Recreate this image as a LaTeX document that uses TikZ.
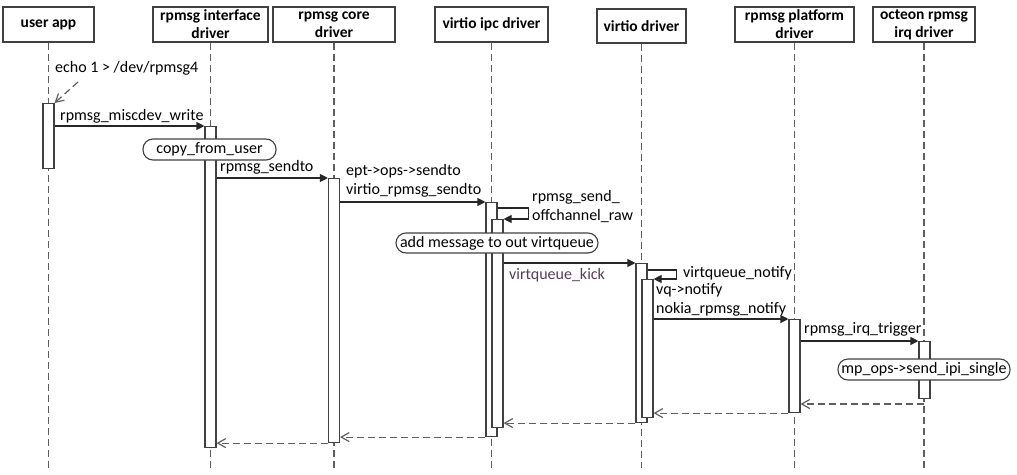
\documentclass[tikz,border=0pt]{standalone}
\usepackage{fontspec}
\setmainfont{Carlito}
\usetikzlibrary{arrows.meta,calc}
\definecolor{linec}{RGB}{64,64,64}
\definecolor{lifec}{RGB}{95,95,95}
\definecolor{kickc}{RGB}{85,60,90}
\tikzset{
  head/.style={draw=linec,line width=1.2pt,fill=white,inner sep=0pt,align=center,font=\bfseries\fontsize{15.5}{18}\selectfont},
  life/.style={draw=lifec,line width=1.3pt,dash pattern=on 7pt off 4pt},
  act/.style={draw=linec,line width=1.1pt,fill=white,inner sep=0pt,minimum width=11pt,anchor=north},
  msg/.style={draw=black!85,line width=1.1pt,-{Triangle[length=8pt,width=8pt]}},
  ret/.style={draw=lifec,line width=1.2pt,dash pattern=on 7pt off 4pt,-{Straight Barb[length=8pt,width=9pt]}},
  lbl/.style={inner sep=0pt,anchor=base west,font=\fontsize{16}{18}\selectfont},
  pill/.style={draw=linec,line width=1.1pt,fill=white,rounded corners=10pt,inner sep=0pt,font=\fontsize{16}{18}\selectfont}
}
\begin{document}
\begin{tikzpicture}[x=1pt,y=-1pt]
\useasboundingbox (0,0) rectangle (1017,474);
% headers
\node[head,minimum width=91pt,minimum height=35pt] (h1) at (48.5,24.5) {user app};
\node[head,minimum width=115pt,minimum height=35pt] (h2) at (210.5,24.5) {rpmsg interface\\driver};
\node[head,minimum width=122pt,minimum height=35pt] (h3) at (334,24.5) {rpmsg core\\driver};
\node[head,minimum width=113pt,minimum height=35pt] (h4) at (491.5,24.5) {virtio ipc driver};
\node[head,minimum width=89pt,minimum height=34pt] (h5) at (641.5,26) {virtio driver};
\node[head,minimum width=119pt,minimum height=35pt] (h6) at (794.5,24.5) {rpmsg platform\\driver};
\node[head,minimum width=102pt,minimum height=35pt] (h7) at (924,24.5) {octeon rpmsg\\irq driver};
% lifeline ends
\coordinate (e1) at (48.5,468);
\coordinate (e2) at (210.5,468);
\coordinate (e3) at (334,468);
\coordinate (e4) at (491.5,468);
\coordinate (e5) at (641.5,468);
\coordinate (e6) at (794.5,468);
\coordinate (e7) at (924,468);
\foreach \i in {1,...,7} {\draw[life] (h\i.south) -- (e\i);}
% activations
\node[act,minimum height=65pt] (ua) at (48.5,103) {};
\node[act,minimum height=321pt] (ia) at (210.5,126) {};
\node[act,minimum height=264pt] (ca) at (334,178) {};
\node[act,minimum height=234pt] (pa1) at (491.5,202) {};
\node[act,minimum height=208pt] (pa2) at (497.5,219) {};
\node[act,minimum height=159pt] (va1) at (641.5,263) {};
\node[act,minimum height=138pt] (va2) at (647.5,279) {};
\node[act,minimum height=93pt] (pla) at (794.5,319) {};
\node[act,minimum height=57pt] (oa) at (924.5,341) {};
% echo
\coordinate (echo) at (78,82);
\draw[ret] (echo) -- (ua.north east);
\node[lbl] (l0) at (55,72.5) {echo 1 > /dev/rpmsg4};
% calls
\draw[msg] (ua.east |- ia.north west) -- (ia.north west);
\node[lbl] (l1) at (60,120.5) {rpmsg\_miscdev\_write};
\draw[msg] (ia.east |- ca.north west) -- (ca.north west);
\node[lbl] (l2) at (220,171.5) {rpmsg\_sendto};
\draw[msg] (ca.east |- pa1.north west) -- (pa1.north west);
\node[lbl] (l3) at (346,175) {ept->ops->sendto};
\node[lbl] (l4) at (346,194) {virtio\_rpmsg\_sendto};
\draw[msg] ([yshift=-6pt]pa1.north east) -- ++(31,0) |- (pa2.north east);
\node[lbl] (l5) at (532,201.5) {rpmsg\_send\_};
\node[lbl] (l6) at (532,220.5) {offchannel\_raw};
\draw[msg] (pa2.east |- va1.north west) -- (va1.north west);
\node[lbl,text=kickc] (l7) at (509,279.5) {virtqueue\_kick};
\draw[msg] ([yshift=-7pt]va1.north east) -- ++(29,0) |- (va2.north east);
\node[lbl] (l8) at (683,277.5) {virtqueue\_notify};
\node[lbl] (l9) at (656,294) {vq->notify};
\node[lbl] (l10) at (656,313.5) {nokia\_rpmsg\_notify};
\draw[msg] (va2.east |- pla.north west) -- (pla.north west);
\draw[msg] (pla.east |- oa.north west) -- (oa.north west);
\node[lbl] (l11) at (804,333.5) {rpmsg\_irq\_trigger};
% pills
\node[pill,minimum width=133pt,minimum height=21pt] (p1) at (209.5,149.5) {copy\_from\_user};
\node[pill,minimum width=202pt,minimum height=20pt] (p2) at (497,243) {add message to out virtqueue};
\node[pill,minimum width=172pt,minimum height=21pt] (p3) at (924,369.5) {mp\_ops->send\_ipi\_single};
% returns
\coordinate (r0) at (924,404);
\draw[ret] (r0) -- (pla.east |- r0);
\draw[ret] (pla.south west) -- (va2.east |- pla.south west);
\draw[ret] (va1.south west) -- (pa2.east |- va1.south west);
\draw[ret] (pa1.south west) -- (ca.east |- pa1.south west);
\draw[ret] (ca.south west) -- (ia.east |- ca.south west);
\end{tikzpicture}
\end{document}
